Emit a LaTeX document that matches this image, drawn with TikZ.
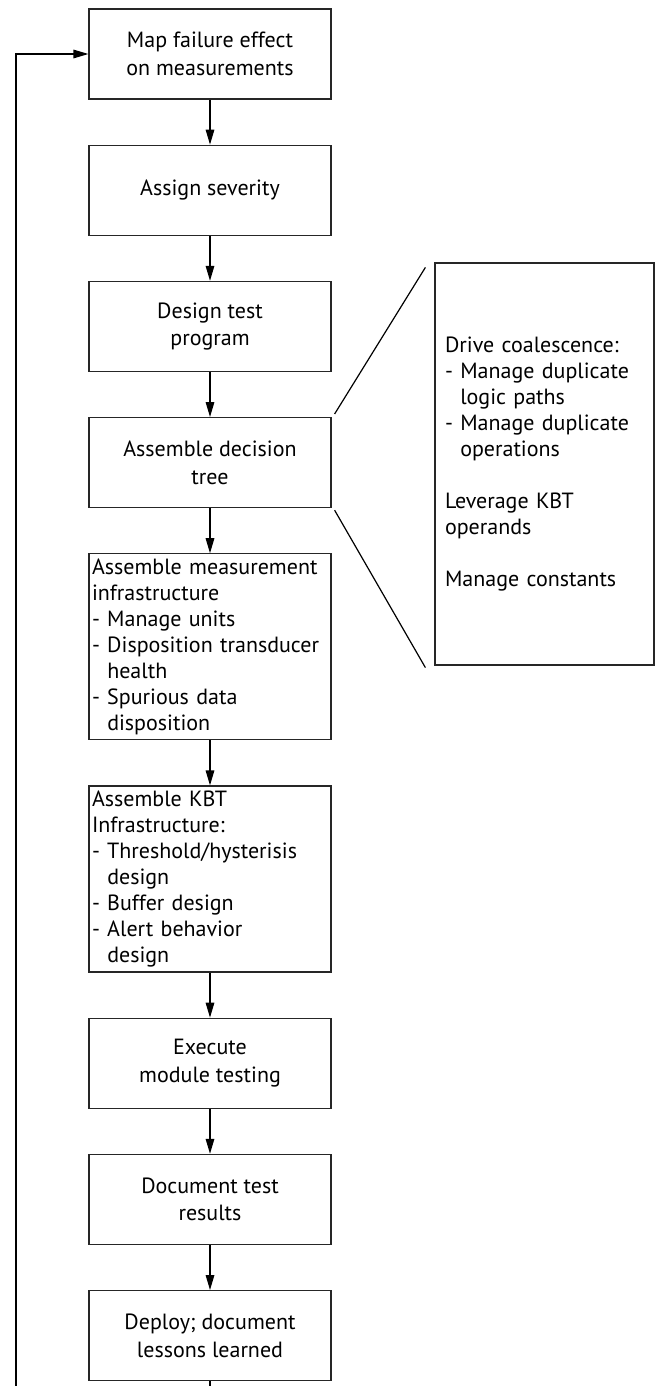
\documentclass[tikz,border=0pt]{standalone}
\usepackage{fontspec}
\setsansfont{PT Sans}
\usetikzlibrary{positioning, arrows.meta, calc}

\begin{document}
\begin{tikzpicture}[
  node distance=22.5pt,
  font=\sffamily\fontsize{11}{13}\selectfont,
  % block styles
  box/.style={draw=black!85, line width=0.6pt, rectangle, minimum width=121pt, minimum height=45pt, align=center, inner sep=2pt, font=\sffamily\fontsize{11}{13.8}\selectfont},
  listbox/.style={box, text width=118pt, inner xsep=1.5pt, minimum height=93pt, align=left, font=\sffamily\fontsize{11}{13}\selectfont},
  notebox/.style={draw=black!85, line width=0.6pt, rectangle, text width=99.5pt, inner xsep=5pt, minimum height=201pt, align=left},
  % connector styles
  line/.style={draw, line width=0.6pt, -{Triangle[length=7.5pt, width=4.3pt]}},
  plain/.style={draw, line width=0.6pt}
]
  \useasboundingbox (0,0) rectangle (327.5pt,-693pt);

  % ==========================================
  % MAIN CHAIN
  % ==========================================
  \node[box] (mapfail) at (105pt,-27pt) {Map failure effect\\on measurements};

  \node[box, below=of mapfail] (severity) {Assign severity};
  \draw[line] (mapfail) -- (severity);

  \node[box, below=of severity] (testprog) {Design test\\program};
  \draw[line] (severity) -- (testprog);

  \node[box, below=of testprog] (dectree) {Assemble decision\\tree};
  \draw[line] (testprog) -- (dectree);

  \node[listbox, below=of dectree] (measinfra) {%
    Assemble measurement\\
    infrastructure\\
    - Manage units\\
    - Disposition transducer\\
    \hphantom{- }health\\
    - Spurious data\\
    \hphantom{- }disposition};
  \draw[line] (dectree) -- (measinfra);

  \node[listbox, below=of measinfra] (kbtinfra) {%
    Assemble KBT\\
    Infrastructure:\\
    - Threshold/hysterisis\\
    \hphantom{- }design\\
    - Buffer design\\
    - Alert behavior\\
    \hphantom{- }design};
  \draw[line] (measinfra) -- (kbtinfra);

  \node[box, below=of kbtinfra] (modtest) {Execute\\module testing};
  \draw[line] (kbtinfra) -- (modtest);

  \node[box, below=of modtest] (results) {Document test\\results};
  \draw[line] (modtest) -- (results);

  \node[box, below=of results] (deploy) {Deploy; document\\lessons learned};
  \draw[line] (results) -- (deploy);

  % ==========================================
  % FEEDBACK LOOP (runs off the bottom edge)
  % ==========================================
  \coordinate (loopout) at (deploy.south |- 0,-693pt);
  \coordinate (loopin) at (8pt,-693pt);
  \draw[plain] (deploy.south) -- (loopout);
  \draw[line] (loopin) |- (mapfail.west);

  % ==========================================
  % DECISION TREE DETAIL
  % ==========================================
  \node[notebox] (treenotes) at (272.25pt,-232pt) {%
    Drive coalescence:\\
    - Manage duplicate\\
    \hphantom{- }logic paths\\
    - Manage duplicate\\
    \hphantom{- }operations\\[13pt]
    Leverage KBT\\
    operands\\[13pt]
    Manage constants\\[6pt]};
  \draw[plain] ($(dectree.north east)+(1.5pt,1.5pt)$) -- ($(treenotes.north west)+(-4.5pt,-2.5pt)$);
  \draw[plain] ($(dectree.south east)+(1.5pt,-1pt)$) -- ($(treenotes.south west)+(-4.5pt,-1pt)$);

\end{tikzpicture}
\end{document}
